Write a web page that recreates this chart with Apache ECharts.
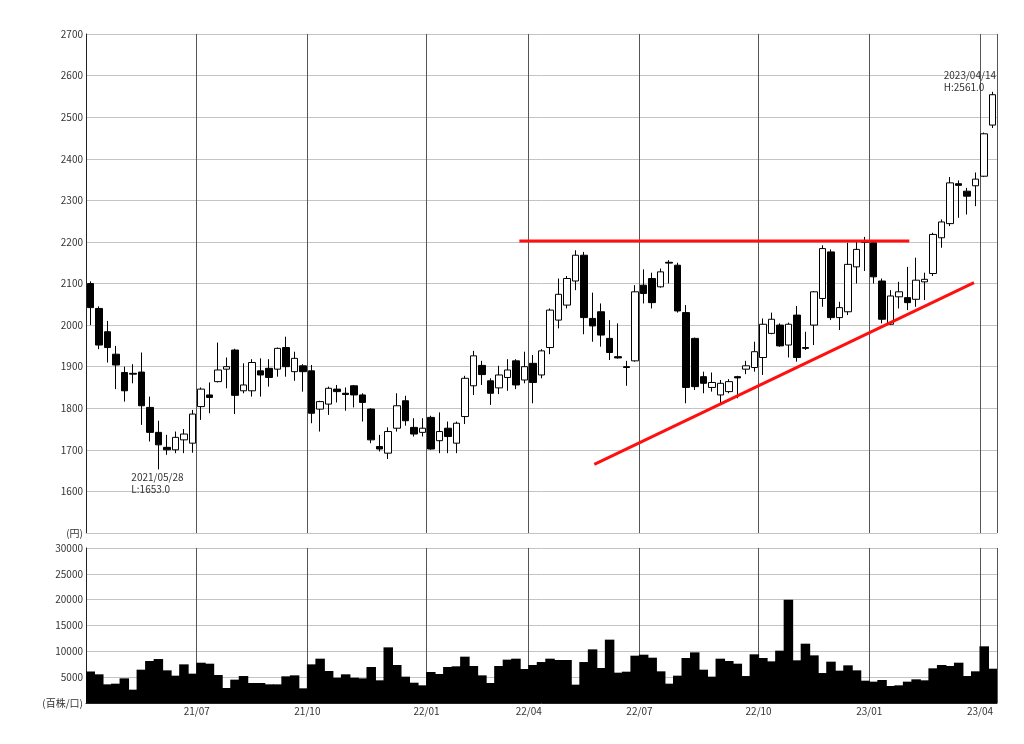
<!DOCTYPE html>
<html>
<head>
<meta charset="utf-8">
<script src="https://cdn.jsdelivr.net/npm/echarts@6.0.0/dist/echarts.min.js"></script>
<style>
html,body{margin:0;padding:0;background:#fff;}
#chart{width:1024px;height:744px;}
</style>
</head>
<body>
<div id="chart"></div>
<script>
// Weekly categories (Friday of each week)
var dates = [
'2021/04/02','2021/04/09','2021/04/16','2021/04/23','2021/04/30','2021/05/07','2021/05/14','2021/05/21','2021/05/28',
'2021/06/04','2021/06/11','2021/06/18','2021/06/25','2021/07/02','2021/07/09','2021/07/16','2021/07/23','2021/07/30',
'2021/08/06','2021/08/13','2021/08/20','2021/08/27','2021/09/03','2021/09/10','2021/09/17','2021/09/24',
'2021/10/01','2021/10/08','2021/10/15','2021/10/22','2021/10/29','2021/11/05','2021/11/12','2021/11/19','2021/11/26',
'2021/12/03','2021/12/10','2021/12/17','2021/12/24','2021/12/31',
'2022/01/07','2022/01/14','2022/01/21','2022/01/28','2022/02/04','2022/02/11','2022/02/18','2022/02/25',
'2022/03/04','2022/03/11','2022/03/18','2022/03/25','2022/04/01','2022/04/08','2022/04/15','2022/04/22','2022/04/29',
'2022/05/06','2022/05/13','2022/05/20','2022/05/27','2022/06/03','2022/06/10','2022/06/17','2022/06/24',
'2022/07/01','2022/07/08','2022/07/15','2022/07/22','2022/07/29','2022/08/05','2022/08/12','2022/08/19','2022/08/26',
'2022/09/02','2022/09/09','2022/09/16','2022/09/23','2022/09/30','2022/10/07','2022/10/14','2022/10/21','2022/10/28',
'2022/11/04','2022/11/11','2022/11/18','2022/11/25','2022/12/02','2022/12/09','2022/12/16','2022/12/23','2022/12/30',
'2023/01/06','2023/01/13','2023/01/20','2023/01/27','2023/02/03','2023/02/10','2023/02/17','2023/02/24',
'2023/03/03','2023/03/10','2023/03/17','2023/03/24','2023/03/31','2023/04/07','2023/04/14'
];

var openP = [
2100,2040,1984,1930,1886,1884,1887,1802,1742,1706,1700,1724,1716,1804,1832,1864,1894,1940,1842,1842,
1890,1896,1894,1946,1888,1902,1890,1798,1810,1846,1836,1854,1832,1798,1708,1692,1752,1818,1754,1742,
1778,1722,1752,1716,1780,1854,1903,1866,1849,1874,1914,1868,1908,1880,1946,2012,2048,2106,2168,2016,
2032,1968,1924,1900,1914,2096,2112,2092,2151,2144,2030,1968,1876,1850,1832,1840,1876,1894,1898,1922,
1980,2000,1952,2024,1946,2000,2064,2176,2018,2032,2140,2201,2198,2106,2002,2068,2066,2062,2104,2124,
2210,2244,2340,2322,2335,2358,2481
];
var closeP = [
2042,1952,1946,1904,1842,1882,1806,1742,1712,1700,1730,1738,1786,1846,1826,1892,1900,1831,1856,1910,
1880,1874,1944,1900,1920,1888,1788,1816,1848,1840,1833,1832,1814,1724,1702,1744,1806,1770,1738,1752,
1702,1744,1732,1764,1872,1926,1881,1836,1880,1892,1856,1900,1862,1938,2036,2074,2112,2168,2018,1998,
1976,1934,1921,1898,2080,2076,2054,2128,2149,2034,1850,1852,1860,1862,1860,1864,1873,1902,1936,2002,
2014,1950,2002,1922,1944,2080,2184,2018,2042,2146,2182,2199,2116,2014,2070,2080,2054,2108,2110,2218,
2248,2342,2336,2310,2351,2460,2554
];
var lowP = [
2000,1942,1910,1846,1816,1860,1760,1720,1653,1688,1692,1692,1693,1772,1788,1862,1848,1786,1836,1828,
1828,1852,1876,1876,1866,1840,1764,1744,1784,1814,1794,1802,1768,1716,1696,1678,1744,1758,1732,1732,
1700,1692,1692,1692,1762,1832,1856,1808,1834,1842,1846,1860,1812,1872,1930,1992,2040,2084,1978,1960,
1948,1916,1919,1854,1912,2052,2040,2090,2100,2030,1812,1844,1836,1840,1810,1836,1824,1882,1888,1880,
1978,1948,1922,1912,1940,1952,2044,2012,1988,2024,2100,2130,2100,2004,2000,2040,2036,2044,2060,2118,
2186,2238,2258,2266,2286,2356,2474
];
var highP = [
2105,2045,2010,1950,1900,1906,1934,1828,1770,1736,1744,1750,1796,1850,1862,1958,1922,1943,1908,1918,
1920,1918,1946,1972,1936,1906,1904,1818,1852,1856,1850,1856,1836,1800,1736,1754,1836,1830,1776,1776,
1782,1790,1768,1768,1878,1938,1914,1872,1902,1918,1918,1936,1928,1942,2040,2112,2118,2180,2176,2078,
2052,2012,2004,1914,2096,2134,2126,2136,2156,2150,2048,1970,1888,1886,1868,1870,1878,1914,1960,2016,
2030,2004,2006,2046,1984,2082,2192,2182,2056,2198,2200,2212,2204,2112,2084,2104,2140,2162,2126,2222,
2254,2356,2348,2330,2367,2463,2561
];
var volume = [
6100,5550,3610,3740,4770,2580,6450,8130,8510,6320,5290,7480,5680,7800,7610,5420,2900,4520,5220,3870,
3870,3610,3610,5160,5350,2840,7480,8580,6190,4900,5550,4900,4770,6970,4390,10770,7350,5100,3930,3420,
6000,5610,6970,7100,8970,7160,5350,3870,7160,8390,8580,6580,7350,7930,8580,8320,8320,3550,7930,10380,
6770,12260,5870,6060,9160,9350,8770,6130,3740,5290,8710,9800,6450,5100,8580,8130,7610,5220,9420,8710,
8060,10130,20000,8260,11480,9220,5800,8000,6260,7290,6320,4320,4130,4450,3290,3420,4130,4580,4390,6710,
7350,7160,7800,5220,6130,10970,6640
];
// Hand-drawn trend lines: [week index, price]
var resistanceLine = [[50.4, 2202], [96.2, 2202]];
var supportLine = [[59.2, 1665], [103.8, 2102]];
// Annotated extremes
var lowNote = {index: 8, value: 1653.0};
var highNote = {index: 106, value: 2561.0};

var priceTicks = {min: 1500, max: 2700, step: 100};
var volTicks = {min: 0, max: 30000, step: 5000};

// quarter boundary indices (first week of Jan/Apr/Jul/Oct)
var quarterIdx = [];
for (var i = 1; i < dates.length; i++) {
  var m = dates[i].slice(5, 7), pm = dates[i - 1].slice(5, 7);
  if (m !== pm && ['01','04','07','10'].indexOf(m) >= 0) quarterIdx.push(i);
}
function isQuarter(idx) { return quarterIdx.indexOf(idx) >= 0; }

var candleData = dates.map(function (d, k) {
  return [openP[k], closeP[k], lowP[k], highP[k]];
});

var FONT = '"Noto Sans CJK JP", "Noto Sans", sans-serif';
var gridH = '#c4c4c4';
var gridV = '#555555';

var chart = echarts.init(document.getElementById('chart'), null, {renderer: 'canvas'});
chart.setOption({
  animation: false,
  backgroundColor: '#ffffff',
  grid: [
    {left: 86, top: 34, width: 911, height: 499, containLabel: false},
    {left: 86, top: 548, width: 911, height: 155, containLabel: false}
  ],
  xAxis: [
    {
      type: 'category', gridIndex: 0, data: dates, boundaryGap: true,
      axisLine: {show: true, onZero: false, lineStyle: {color: gridH}},
      axisTick: {show: false}, axisLabel: {show: false},
      splitLine: {show: true, interval: function (idx) { return isQuarter(idx); }, lineStyle: {color: gridV, width: 1}}
    },
    {
      type: 'category', gridIndex: 1, data: dates, boundaryGap: true,
      axisLine: {show: true, onZero: false, lineStyle: {color: '#222'}},
      axisTick: {show: false},
      axisLabel: {
        show: true, interval: function (idx) { return isQuarter(idx); },
        formatter: function (v) { return v.slice(2, 4) + '/' + v.slice(5, 7); },
        fontFamily: FONT, fontSize: 10, color: '#333', margin: 3,
        padding: [0, 8.5, 0, 0]
      },
      splitLine: {show: true, interval: function (idx) { return isQuarter(idx); }, lineStyle: {color: gridV, width: 1}}
    },
    {
      type: 'value', gridIndex: 0, min: -0.5, max: dates.length - 0.5, show: false, position: 'top',
      axisLine: {onZero: false}
    }
  ],
  yAxis: [
    {
      type: 'value', gridIndex: 0, min: priceTicks.min, max: priceTicks.max, interval: priceTicks.step,
      axisLine: {show: true, onZero: false, lineStyle: {color: '#222'}},
      axisTick: {show: false},
      axisLabel: {
        fontFamily: FONT, fontSize: 10, color: '#333', margin: 3,
        formatter: function (v) { return v === priceTicks.min ? '(円)' : String(v); }
      },
      splitLine: {show: true, lineStyle: {color: gridH, width: 1}}
    },
    {
      type: 'value', gridIndex: 1, min: volTicks.min, max: volTicks.max, interval: volTicks.step,
      axisLine: {show: true, onZero: false, lineStyle: {color: '#222'}},
      axisTick: {show: false},
      axisLabel: {
        fontFamily: FONT, fontSize: 10, color: '#333', margin: 3,
        formatter: function (v) { return v === 0 ? '(百株/口)' : String(v); }
      },
      splitLine: {show: true, lineStyle: {color: gridH, width: 1}}
    }
  ],
  series: [
    {
      type: 'candlestick', xAxisIndex: 0, yAxisIndex: 0, data: candleData,
      barWidth: 7,
      itemStyle: {
        color: '#ffffff', color0: '#000000',
        borderColor: '#000000', borderColor0: '#000000', borderColorDoji: '#000000',
        borderWidth: 1
      },
      markPoint: {
        symbol: 'circle', symbolSize: 0, silent: true,
        label: {show: true, fontFamily: FONT, fontSize: 10, lineHeight: 12, color: '#333', align: 'left'},
        data: [
          {
            coord: [lowNote.index, lowNote.value],
            label: {
              formatter: dates[lowNote.index] + '\nL:' + lowNote.value.toFixed(1),
              position: 'inside', align: 'left', verticalAlign: 'top', offset: [-27, 2]
            }
          },
          {
            coord: [highNote.index, highNote.value],
            label: {
              formatter: dates[highNote.index] + '\nH:' + highNote.value.toFixed(1),
              position: 'inside', align: 'left', verticalAlign: 'bottom', offset: [-49, 1]
            }
          }
        ]
      }
    },
    {
      type: 'line', xAxisIndex: 2, yAxisIndex: 0, data: resistanceLine,
      symbol: 'none', silent: true, lineStyle: {color: '#ff1010', width: 3}, z: 5
    },
    {
      type: 'line', xAxisIndex: 2, yAxisIndex: 0, data: supportLine,
      symbol: 'none', silent: true, lineStyle: {color: '#ff1010', width: 3}, z: 5
    },
    {
      type: 'bar', xAxisIndex: 1, yAxisIndex: 1, data: volume,
      barWidth: 9.5, barCategoryGap: 0,
      itemStyle: {color: '#000000'}, silent: true
    }
  ]
});
</script>
</body>
</html>
